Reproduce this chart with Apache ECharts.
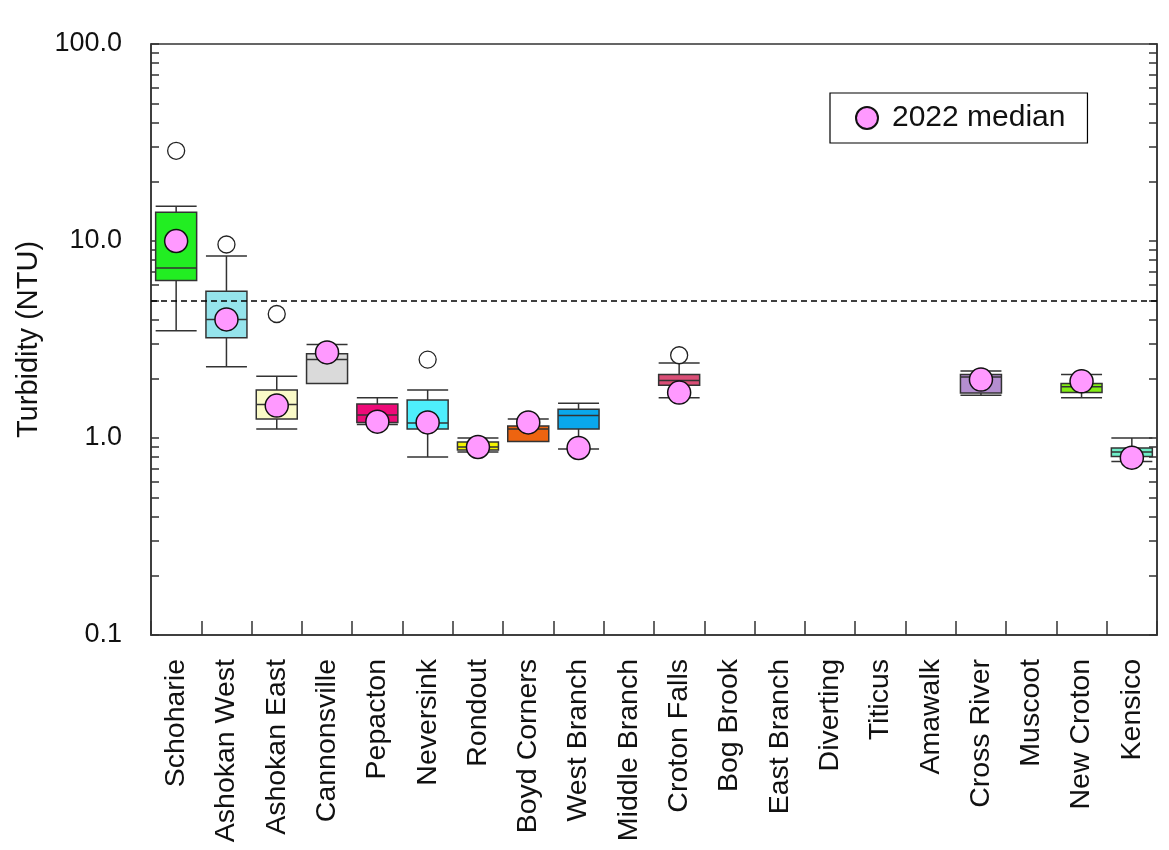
<!DOCTYPE html>
<html>
<head>
<meta charset="utf-8">
<title>Reservoir turbidity</title>
<script src="https://cdn.jsdelivr.net/npm/echarts@6/dist/echarts.min.js"></script>
<style>
  html, body { margin: 0; padding: 0; background: #fff; }
  #chart { width: 1169px; height: 850px; }
</style>
</head>
<body>
<div id="chart"></div>
<script>
// Reservoirs along the x axis
const categories = [
  'Schoharie', 'Ashokan West', 'Ashokan East', 'Cannonsville', 'Pepacton',
  'Neversink', 'Rondout', 'Boyd Corners', 'West Branch', 'Middle Branch',
  'Croton Falls', 'Bog Brook', 'East Branch', 'Diverting', 'Titicus',
  'Amawalk', 'Cross River', 'Muscoot', 'New Croton', 'Kensico'
];

// Box-and-whisker statistics of annual medians (NTU); null = no record
const whiskerLow  = [3.5, 2.3, 1.11, 1.89, 1.17, 0.80, 0.85, 0.96, 0.88, null, 1.60, null, null, null, null, null, 1.65, null, 1.60, 0.76];
const quartile1   = [6.3, 3.23, 1.25, 1.89, 1.20, 1.11, 0.87, 0.96, 1.11, null, 1.85, null, null, null, null, null, 1.69, null, 1.70, 0.805];
const medianHist  = [7.3, 4.0, 1.48, 2.50, 1.31, 1.19, 0.90, 1.11, 1.30, null, 1.96, null, null, null, null, null, 2.04, null, 1.82, 0.85];
const quartile3   = [14.0, 5.55, 1.75, 2.68, 1.49, 1.56, 0.955, 1.15, 1.40, null, 2.10, null, null, null, null, null, 2.10, null, 1.89, 0.89];
const whiskerHigh = [15.0, 8.4, 2.06, 2.98, 1.60, 1.75, 1.00, 1.25, 1.50, null, 2.40, null, null, null, null, null, 2.19, null, 2.10, 1.00];

// 2022 median turbidity per reservoir
const median2022 = [10.0, 4.0, 1.46, 2.72, 1.21, 1.20, 0.90, 1.20, 0.89, null, 1.70, null, null, null, null, null, 1.98, null, 1.94, 0.795];

// Outlying annual medians
const outlierCats = ['Schoharie', 'Ashokan West', 'Ashokan East', 'Neversink', 'Croton Falls'];
const outlierVals = [28.7, 9.6, 4.26, 2.5, 2.63];

// Box fill colours
const boxColors = [
  '#22EE22', '#95E4EC', '#FAFAC8', '#DADADA', '#EE0A78',
  '#4EEEFC', '#F5F500', '#EE6410', '#0AA8EC', '#CCCCCC',
  '#DA4E76', '#CCCCCC', '#CCCCCC', '#CCCCCC', '#CCCCCC',
  '#CCCCCC', '#B48ED0', '#CCCCCC', '#82EE14', '#6EEEC8'
];

// Turbidity guideline (NTU)
const guideline = 5;

// Log tick positions
const yMajor = [0.1, 1, 10, 100];
const yMinor = [];
for (let d = 0.1; d < 100; d *= 10) {
  for (let k = 1; k <= 10; k++) yMinor.push(+(d * k).toPrecision(3));
}

const FONT = 'Arial, "Liberation Sans", sans-serif';
const INK = '#333';

const boxData = categories.map((c, i) => {
  if (whiskerLow[i] == null) return ['-', '-', '-', '-', '-'];
  return {
    value: [whiskerLow[i], quartile1[i], medianHist[i], quartile3[i], whiskerHigh[i]],
    itemStyle: { color: boxColors[i] }
  };
});

const medianData = categories.map((c, i) => [c, median2022[i] == null ? '-' : median2022[i]]);
const outlierData = outlierCats.map((c, i) => [c, outlierVals[i]]);

const chart = echarts.init(document.getElementById('chart'), null, { renderer: 'canvas' });

chart.setOption({
  backgroundColor: '#fff',
  animation: false,
  textStyle: { fontFamily: FONT },
  grid: {
    left: 151, top: 44, right: 12, bottom: 215,
    outerBoundsMode: 'none',
    containLabel: false,
    show: true, borderColor: INK, borderWidth: 1.5, backgroundColor: 'transparent'
  },
  legend: {
    data: ['2022 median'],
    left: 830, top: 93,
    padding: [10, 22, 10, 25],
    itemWidth: 22, itemHeight: 22, itemGap: 10,
    borderColor: '#000', borderWidth: 1.2, borderRadius: 0,
    textStyle: { fontSize: 30, color: '#111', fontFamily: FONT, padding: [0, 0, 0, 9] }
  },
  xAxis: {
    type: 'category',
    data: categories,
    boundaryGap: true,
    axisLine: { lineStyle: { color: INK, width: 1.5 } },
    axisTick: { show: true, inside: true, length: 14, interval: 0, lineStyle: { color: INK, width: 1.5 } },
    axisLabel: {
      interval: 0, rotate: 90, margin: 24,
      fontSize: 28.5, color: '#111', fontFamily: FONT
    },
    splitLine: { show: false }
  },
  yAxis: [{
    type: 'log',
    logBase: 10,
    min: 0.1, max: 100,
    name: 'Turbidity (NTU)',
    nameLocation: 'middle',
    nameGap: 108,
    nameTextStyle: { fontSize: 29, color: '#111', fontFamily: FONT },
    axisLine: { show: true, lineStyle: { color: INK, width: 1.5 } },
    axisTick: { show: true, inside: true, length: 8, customValues: yMinor, lineStyle: { color: INK, width: 1.5 } },
    axisLabel: {
      customValues: yMajor, margin: 29,
      fontSize: 27, color: '#111', fontFamily: FONT,
      formatter: v => Number(v).toFixed(1)
    },
    splitLine: { show: false },
    minorTick: { show: false }
  }, {
    type: 'log',
    logBase: 10,
    min: 0.1, max: 100,
    position: 'right',
    axisLine: { show: true, lineStyle: { color: INK, width: 1.5 } },
    axisTick: { show: true, inside: true, length: 8, customValues: yMinor, lineStyle: { color: INK, width: 1.5 } },
    axisLabel: { show: false },
    splitLine: { show: false }
  }],
  series: [{
    name: 'Historical',
    type: 'boxplot',
    data: boxData,
    boxWidth: [41, 41],
    itemStyle: { borderColor: INK, borderWidth: 1.5 },
    emphasis: { disabled: true },
    z: 2
  }, {
    name: 'Outliers',
    type: 'scatter',
    data: outlierData,
    symbol: 'circle',
    symbolSize: 17,
    itemStyle: { color: '#fff', borderColor: '#222', borderWidth: 1.3, opacity: 1 },
    markLine: {
      silent: true,
      symbol: ['none', 'none'],
      label: { show: false },
      lineStyle: { color: '#000', type: [6, 4], width: 1.5 },
      data: [{ yAxis: guideline }]
    },
    z: 3
  }, {
    name: '2022 median',
    type: 'scatter',
    data: medianData,
    symbol: 'circle',
    symbolSize: 23,
    itemStyle: { color: '#FF99FF', borderColor: '#111', borderWidth: 1.5, opacity: 1 },
    z: 4
  }]
});
</script>
</body>
</html>
